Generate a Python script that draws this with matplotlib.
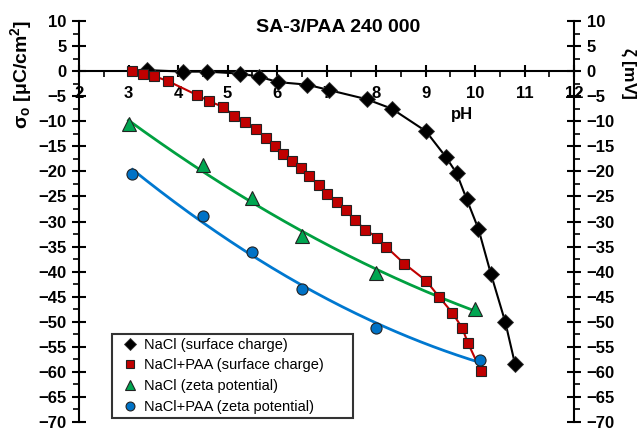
import numpy as np
import matplotlib
matplotlib.use("Agg")
import matplotlib.pyplot as plt
from matplotlib.ticker import MultipleLocator

plt.rcParams['font.family'] = ['Liberation Sans', 'DejaVu Sans']
plt.rcParams['font.weight'] = 'bold'
plt.rcParams['mathtext.fontset'] = 'custom'
plt.rcParams['mathtext.rm'] = 'Liberation Sans:bold'
plt.rcParams['mathtext.bf'] = 'Liberation Sans:bold'
plt.rcParams['mathtext.it'] = 'Liberation Sans:bold'

title = "SA-3/PAA 240 000"

# NaCl (surface charge)
ph_nacl_sc = [3.38, 4.10, 4.59, 5.25, 5.63, 6.03, 6.61, 7.06, 7.81, 8.32,
              9.01, 9.41, 9.63, 9.83, 10.07, 10.32, 10.61, 10.81]
sc_nacl = [0.2, -0.1, -0.1, -0.5, -1.1, -2.2, -2.7, -3.8, -5.6, -7.5,
           -12.0, -17.1, -20.4, -25.5, -31.5, -40.4, -50.0, -58.5]

# NaCl+PAA (surface charge)
ph_paa_sc = [3.08, 3.29, 3.52, 3.80, 4.39, 4.63, 4.90, 5.14, 5.35, 5.57,
             5.77, 5.95, 6.13, 6.30, 6.48, 6.65, 6.85, 7.02, 7.21, 7.39,
             7.58, 7.78, 8.02, 8.20, 8.57, 9.01, 9.28, 9.54, 9.74, 9.86, 10.12]
sc_paa = [0.0, -0.5, -1.0, -2.0, -4.8, -6.0, -7.1, -8.9, -10.1, -11.6,
          -13.3, -14.9, -16.5, -18.0, -19.4, -21.0, -22.8, -24.5, -26.1, -27.8,
          -29.8, -31.6, -33.2, -35.0, -38.4, -41.8, -45.1, -48.2, -51.2, -54.3, -59.8]

# NaCl (zeta potential)
ph_nacl_z = [3.0, 4.5, 5.5, 6.5, 8.0, 10.0]
z_nacl = [-10.6, -18.8, -25.4, -32.9, -40.2, -47.4]

# NaCl+PAA (zeta potential)
ph_paa_z = [3.08, 4.51, 5.50, 6.51, 8.0, 10.1]
z_paa = [-20.5, -29.0, -36.0, -43.4, -51.3, -57.6]

labels = ["NaCl (surface charge)", "NaCl+PAA (surface charge)",
          "NaCl (zeta potential)", "NaCl+PAA (zeta potential)"]

red = '#C00000'
green = '#00A651'
blue = '#0072C6'

fig = plt.figure(figsize=(6.43, 4.33), dpi=100)
ax = fig.add_axes([79/643, 1-422/433, (574-79)/643, (422-21)/433])

# fitted smooth curves for zeta potential
c1 = np.polyfit(ph_nacl_z, z_nacl, 2)
xx1 = np.linspace(ph_nacl_z[0], ph_nacl_z[-1], 200)
ax.plot(xx1, np.polyval(c1, xx1), color='#00A040', lw=2, zorder=2)
c2 = np.polyfit(ph_paa_z, z_paa, 2)
xx2 = np.linspace(ph_paa_z[0], ph_paa_z[-1], 200)
ax.plot(xx2, np.polyval(c2, xx2), color='#0078D0', lw=2, zorder=2)

ax.plot(ph_nacl_sc, sc_nacl, color='black', lw=1.5, zorder=3)
ax.plot(ph_paa_sc, sc_paa, color=red, lw=1.5, zorder=3)

h1, = ax.plot(ph_nacl_sc, sc_nacl, ls='none', marker='D', ms=7.8, mfc='black',
              mec='#333333', mew=0.6, zorder=4)
h2, = ax.plot(ph_paa_sc, sc_paa, ls='none', marker='s', ms=7.5, mfc=red,
              mec='#222222', mew=0.8, zorder=4)
h3, = ax.plot(ph_nacl_z, z_nacl, ls='none', marker='^', ms=9.5, mfc=green,
              mec='#222222', mew=0.8, zorder=4)
h4, = ax.plot(ph_paa_z, z_paa, ls='none', marker='o', ms=8, mfc=blue,
              mec='#222222', mew=0.8, zorder=4)

ax.set_xlim(2, 12)
ax.set_ylim(-70, 10)

ax.spines['top'].set_visible(False)
ax.spines['bottom'].set_position(('data', 0))
for s in ['left', 'right', 'bottom']:
    ax.spines[s].set_linewidth(1.5)

ax.xaxis.set_major_locator(MultipleLocator(1))
ax.xaxis.set_minor_locator(MultipleLocator(0.5))
ax.yaxis.set_major_locator(MultipleLocator(5))
ax.yaxis.set_minor_locator(MultipleLocator(2.5))

ax.tick_params(axis='y', which='major', direction='inout', length=10, width=1.5,
               left=True, right=True, labelleft=True, labelright=True,
               labelsize=12, pad=4)
ax.tick_params(axis='y', which='minor', direction='out', length=4, width=1.2,
               left=True, right=True)
ax.tick_params(axis='x', which='major', direction='inout', length=9, width=1.5,
               labelsize=12, pad=6)
ax.tick_params(axis='x', which='minor', direction='out', length=4, width=1.2)

fig.text(338/643, 1-27/433, title, fontsize=14, fontweight='bold',
         ha='center', va='center')
fig.text(462/643, 1-115/433, 'pH', fontsize=12, fontweight='bold',
         ha='center', va='center')
ax.set_ylabel(r'$\sigma_\mathrm{o}$ [$\mu$C/cm$^2$]', fontsize=14,
              fontweight='bold')
ax.yaxis.set_label_coords(-0.09, 0.866)
fig.text(628/643, 1-73/433, r'$\zeta$ [mV]', rotation=-90, fontsize=12.5,
         fontweight='bold', ha='center', va='center')

x0 = (112-79)/495
y0 = (422-418)/401
w = (353-112)/495
h = (418-333)/401
leg = ax.legend([h1, h2, h3, h4], labels, loc='lower left',
                bbox_to_anchor=(x0, y0, w, h), mode='expand', fontsize=10.5,
                frameon=True, fancybox=False, edgecolor='black',
                handlelength=1.8, handletextpad=0.1, borderpad=0.3,
                labelspacing=0.45, markerscale=0.8, borderaxespad=0)
leg.get_frame().set_linewidth(1.5)
for t in leg.get_texts():
    t.set_fontweight('normal')

fig.savefig('out.png', dpi=100)
